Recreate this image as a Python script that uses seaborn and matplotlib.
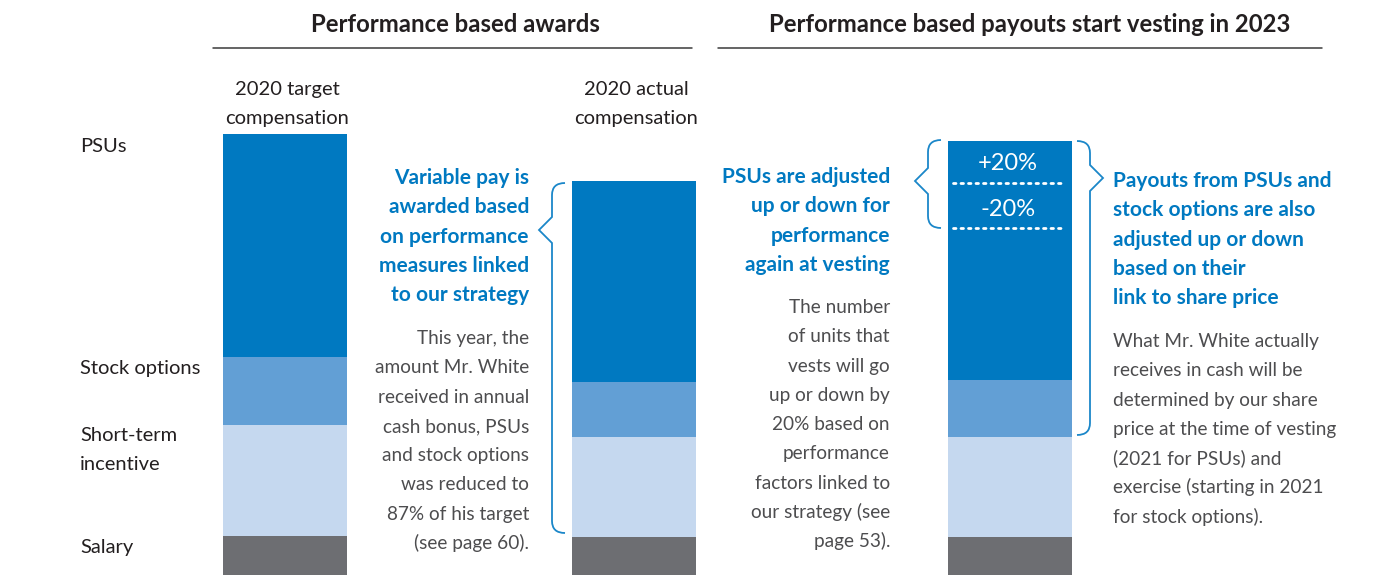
import matplotlib
matplotlib.use("Agg")
import matplotlib.pyplot as plt
from matplotlib.path import Path
from matplotlib.patches import PathPatch
import seaborn as sns
import pandas as pd

# ---------------------------------------------------------------------------
# data
# ---------------------------------------------------------------------------
components = ["Salary", "Short-term incentive", "Stock options", "PSUs"]
bar_names = ["2020 target\ncompensation", "2020 actual\ncompensation", "vesting"]
salary = [39, 38, 38]
short_term = [111, 100, 100]
stock_options = [68, 55, 57]
psus = [223, 201, 239]

left_labels = ["PSUs", "Stock options", "Short-term\nincentive", "Salary"]
headers = ["Performance based awards",
           "Performance based payouts start vesting in 2023"]
adjust_labels = ["+20%", "-20%"]

blue_left = ["Variable pay is", "awarded based", "on performance",
             "measures linked", "to our strategy"]
gray_left = ["This year, the", "amount Mr. White", "received in annual",
             "cash bonus, PSUs", "and stock options", "was reduced to",
             "87% of his target", "(see page 60)."]
blue_mid = ["PSUs are adjusted", "up or down for", "performance",
            "again at vesting"]
gray_mid = ["The number", "of units that", "vests will go", "up or down by",
            "20% based on", "performance", "factors linked to",
            "our strategy (see", "page 53)."]
blue_right = ["Payouts from PSUs and", "stock options are also",
              "adjusted up or down", "based on their", "link to share price"]
gray_right = ["What Mr. White actually", "receives in cash will be",
              "determined by our share", "price at the time of vesting",
              "(2021 for PSUs) and", "exercise (starting in 2021",
              "for stock options)."]

df = pd.DataFrame({"Salary": salary, "Short-term incentive": short_term,
                   "Stock options": stock_options, "PSUs": psus},
                  index=bar_names)

# ---------------------------------------------------------------------------
# style
# ---------------------------------------------------------------------------
sns.set_theme(style="white")
plt.rcParams["font.family"] = ["Lato", "DejaVu Sans"]

BLUE = "#0079C1"
colors = {"Salary": "#6D6E72", "Short-term incentive": "#C5D8EF",
          "Stock options": "#629FD5", "PSUs": "#0079C1"}
TXT = "#4D4D4F"
DARK = "#231F20"

W, H = 1396, 575
fig = plt.figure(figsize=(W / 100, H / 100), dpi=100)
ax = fig.add_axes([0, 0, 1, 1])
ax.set_xlim(0, W)
ax.set_ylim(0, H)
ax.axis("off")


def Y(p):
    return H - p


# stacked bars
xs = [285, 634, 1010]
bottom = [0, 0, 0]
for comp in components:
    ax.bar(xs, df[comp].values, bottom=bottom, width=124,
           color=colors[comp], linewidth=0)
    bottom = [b + v for b, v in zip(bottom, df[comp].values)]

# headers
for txt, xc, (x0, x1) in zip(headers, [455, 1030], [(213, 692), (718, 1322)]):
    ax.text(xc, Y(32), txt, ha="center", va="baseline", fontsize=17.2,
            fontweight="bold", color=DARK)
    ax.plot([x0, x1], [Y(48), Y(48)], color="#3a3a3a", lw=1.1)

# bar titles
for name, xc in zip(bar_names[:2], [287, 636]):
    l1, l2 = name.split("\n")
    ax.text(xc, Y(95), l1, ha="center", va="baseline", fontsize=14.5, color=DARK)
    ax.text(xc, Y(124), l2, ha="center", va="baseline", fontsize=14.5, color=DARK)

# component labels on the left
for lab, base in zip(left_labels, [152, 374, 441, 553]):
    for i, part in enumerate(lab.split("\n")):
        ax.text(80, Y(base + i * 29), part, ha="left", va="baseline",
                fontsize=14.5, color=DARK)


def block(lines, x, base, ha, color, bold, size):
    for i, line in enumerate(lines):
        ax.text(x, Y(base + i * 29.3), line, ha=ha, va="baseline",
                fontsize=size, color=color,
                fontweight="bold" if bold else "normal")


block(blue_left, 529, 184, "right", BLUE, True, 15)
block(gray_left, 529, 344, "right", TXT, False, 13.7)
block(blue_mid, 890, 183, "right", BLUE, True, 15)
block(gray_mid, 890, 313, "right", TXT, False, 13.7)
block(blue_right, 1113, 187, "left", BLUE, True, 15)
block(gray_right, 1113, 347, "left", TXT, False, 13.7)

# +/-20% marks on the vesting bar
for lab, base, dots in zip(adjust_labels, [170, 216], [183, 228]):
    ax.text(1008, Y(base), lab, ha="center", va="baseline", fontsize=17,
            color="white")
    ax.plot([953, 1064], [Y(dots), Y(dots)], color="white", lw=2,
            linestyle=(0, (0.9, 1.8)), dash_capstyle="round")


def brace(x, top, bot, tip, side):
    # side=-1 -> tip points left, +1 -> tip points right
    end = x - side * 13
    tx = x + side * 13
    pts = [(end, top), (x, top), (x, top + 12),
           (x, tip - 13), (tx, tip), (x, tip + 13),
           (x, bot - 12), (x, bot), (end, bot)]
    codes = [Path.MOVETO, Path.CURVE3, Path.CURVE3,
             Path.LINETO, Path.LINETO, Path.LINETO,
             Path.LINETO, Path.CURVE3, Path.CURVE3]
    path = Path([(px, Y(py)) for px, py in pts], codes)
    ax.add_patch(PathPatch(path, fill=False, edgecolor="#1B87C9", lw=1.3))


brace(552, 183, 533, 230, -1)
brace(928, 140, 228, 181, -1)
brace(1090, 141, 435, 178, 1)

fig.savefig("out.png", dpi=100)
